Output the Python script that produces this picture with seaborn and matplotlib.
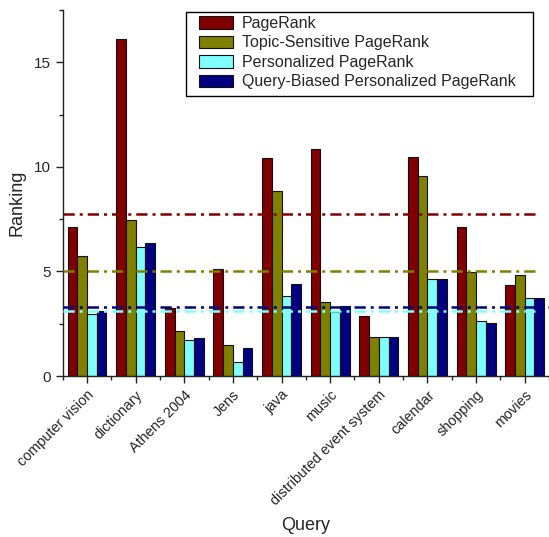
import numpy as np
import pandas as pd
import matplotlib
matplotlib.use("Agg")
import matplotlib.pyplot as plt
import matplotlib.transforms as mtransforms
from matplotlib.patches import Rectangle
import seaborn as sns

queries = ["computer vision", "dictionary", "Athens 2004", "Jens", "java", "music",
           "distributed event system", "calendar", "shopping", "movies"]
series_names = ["PageRank", "Topic-Sensitive PageRank", "Personalized PageRank",
                "Query-Biased Personalized PageRank"]
pagerank = [7.12, 16.10, 3.26, 5.11, 10.40, 10.86, 2.89, 10.48, 7.14, 4.33]
topic_sensitive = [5.75, 7.46, 2.14, 1.49, 8.83, 3.53, 1.85, 9.55, 4.95, 4.84]
personalized = [2.97, 6.16, 1.72, 0.67, 3.83, 3.08, 1.85, 4.66, 2.62, 3.75]
query_biased = [3.10, 6.36, 1.84, 1.33, 4.39, 3.35, 1.85, 4.63, 2.55, 3.72]
colors = ["#800000", "#808000", "#80FFFF", "#000080"]

all_series = [pagerank, topic_sensitive, personalized, query_biased]
rows = []
for name, vals in zip(series_names, all_series):
    for q, v in zip(queries, vals):
        rows.append({"Query": q, "Method": name, "Ranking": v})
df = pd.DataFrame(rows)

sns.set_style("ticks")
plt.rcParams["font.family"] = ["Liberation Sans", "DejaVu Sans"]

fig = plt.figure(figsize=(5.49, 5.37), dpi=100)
ax = fig.add_axes([62.7 / 549, (537 - 376) / 537, (549 - 62.7) / 549, (376 - 10) / 537])

sns.barplot(data=df, x="Query", y="Ranking", hue="Method", order=queries,
            hue_order=series_names, palette=colors, edgecolor="#111111",
            linewidth=0.8, saturation=1, errorbar=None, ax=ax, zorder=2)

# mean lines
for i, (vals, c) in enumerate(zip(all_series, colors)):
    xmax = 1.0 if i == 3 else 0.982
    ax.axhline(np.mean(vals), xmin=0, xmax=xmax, color=c, lw=1.8,
               linestyle=(0, (4.5, 2.0, 1.2, 2.0)), zorder=3)

ax.set_xlim(-0.5, 9.5)
ax.set_ylim(0, 17.5)
ax.set_yticks([0, 5, 10, 15])
ax.set_yticks([2.5, 7.5, 12.5, 17.5], minor=True)
ax.set_xticks(np.arange(-0.5, 10, 1.0), minor=True)
ax.set_xticks(range(len(queries)))
ax.set_xticklabels(queries, rotation=45, ha="right", rotation_mode="anchor", fontsize=10.4)
offset = mtransforms.ScaledTranslation(-0.07, -0.11, fig.dpi_scale_trans)
for lab in ax.get_xticklabels():
    lab.set_transform(lab.get_transform() + offset)
ax.tick_params(axis="y", labelsize=11)
ax.tick_params(which="major", direction="out", length=5, width=1, color="#222222")
ax.tick_params(which="minor", direction="out", length=3, width=1, color="#222222")

for s in ["top", "right"]:
    ax.spines[s].set_visible(False)
for s in ["left", "bottom"]:
    ax.spines[s].set_linewidth(1.0)
    ax.spines[s].set_color("#222222")

ax.set_xlabel("Query", fontsize=13)
ax.set_ylabel("Ranking", fontsize=13)
ax.xaxis.set_label_coords(0.5, -0.386)
ax.yaxis.set_label_coords(-0.0775, 0.474)

# legend frame (axes coords) and legend content
ax.add_patch(Rectangle((0.2535, 0.765), 0.967 - 0.2535, 0.9945 - 0.765,
                       transform=ax.transAxes, facecolor="white", edgecolor="black",
                       lw=1.0, zorder=4, clip_on=False))
handles, labels = ax.get_legend_handles_labels()
leg = ax.legend(handles, labels, loc="upper left", bbox_to_anchor=(0.2803, 0.9836),
                borderaxespad=0, fontsize=11.5, frameon=False,
                handlelength=2.15, handleheight=0.8,
                labelspacing=0.28, handletextpad=0.55, borderpad=0)
leg.set_zorder(5)

fig.savefig("out.png", dpi=100)
